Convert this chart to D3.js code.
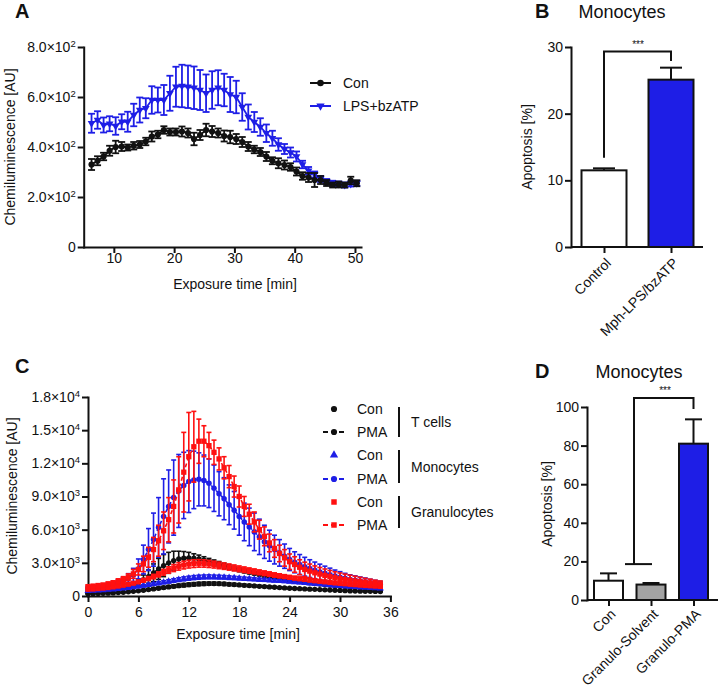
<!DOCTYPE html>
<html><head><meta charset="utf-8">
<script src="https://cdn.jsdelivr.net/npm/d3@7"></script>
<style>body{margin:0;background:#fff}svg{display:block;font-family:Arial,"Liberation Sans",sans-serif}</style>
</head><body><svg id="c" width="718" height="690"></svg>
<script>
// ---------- Panel A data ----------
const timeA = d3.range(0, 45).map(i => 6.3 + i);
const conA = [330,345,362,385,400,402,398,405,410,422, 442,450,468,460,460,462,456,432,448,468, 462,456,444,440,432,420,402,390,380,362, 345,335,328,320,302,284,278,268,268,256, 248,250,248,266,255];
const conAErr = [22,18,15,20,25,18,12,15,14,15, 20,15,15,14,14,20,18,25,20,25, 22,18,22,25,20,20,18,15,16,18, 14,20,18,15,16,15,18,28,16,12, 10,12,10,15,12];
const lpsA = [495,508,488,493,484,501,501,528,548,555, 588,588,588,615,641,644,641,637,628,615, 628,637,628,610,600,560,520,500,480,455, 435,410,392,378,362,330,305,290,272,262, 255,252,248,252,255];
const lpsAErr = [38,35,30,30,35,30,40,45,50,40, 55,50,60,70,80,85,85,85,80,75, 75,70,65,70,65,55,50,40,35,35, 30,25,20,20,20,15,15,12,12,10, 10,10,10,10,10];
const ticksAx = [10,20,30,40,50];
const ticksAy = [0,200,400,600,800];
const labAyMant = ["0","2.0×10","4.0×10","6.0×10","8.0×10"];
const labAyExp = ["","2","2","2","2"];

// ---------- Panel B data ----------
const catsB = ["Control","Mph-LPS/bzATP"];
const valsB = [11.5, 25.1];
const errB = [0.3, 1.8];
const ticksBy = [0,10,20,30];

// ---------- Panel C data (values in thousands AU) ----------
const timeC = d3.range(0, 59).map(i => i * 0.6);
const tConC = [0.2,0.21,0.22,0.24,0.26,0.28,0.31,0.34,0.38,0.42, 0.47,0.52,0.58,0.64,0.7,0.76,0.82,0.88,0.93,0.98, 1.02,1.06,1.09,1.11,1.12,1.12,1.11,1.09,1.06,1.03, 1.0,0.97,0.94,0.91,0.88,0.85,0.82,0.79,0.76,0.73, 0.7,0.68,0.66,0.64,0.62,0.6,0.58,0.56,0.54,0.52, 0.5,0.48,0.46,0.45,0.44,0.43,0.42,0.41,0.4];
const tConCErr = [0.03,0.03,0.03,0.03,0.03,0.04,0.04,0.04,0.05,0.05, 0.06,0.07,0.08,0.09,0.1,0.11,0.12,0.13,0.14,0.15, 0.15,0.15,0.15,0.15,0.14,0.14,0.13,0.13,0.12,0.12, 0.11,0.11,0.1,0.1,0.09,0.09,0.08,0.08,0.08,0.07, 0.07,0.07,0.06,0.06,0.06,0.06,0.05,0.05,0.05,0.05, 0.05,0.05,0.04,0.04,0.04,0.04,0.04,0.04,0.04];
const tPmaC = [0.35,0.38,0.42,0.46,0.5,0.56,0.64,0.74,0.86,1.0, 1.2,1.45,1.75,2.1,2.45,2.75,3.0,3.2,3.35,3.42, 3.45,3.42,3.35,3.25,3.12,3.0,2.88,2.75,2.62,2.5, 2.38,2.27,2.16,2.06,1.96,1.86,1.77,1.68,1.6,1.52, 1.45,1.38,1.31,1.25,1.19,1.13,1.08,1.03,0.98,0.94, 0.9,0.86,0.82,0.79,0.76,0.73,0.7,0.68,0.66];
const tPmaCErr = [0.05,0.05,0.05,0.05,0.06,0.07,0.08,0.1,0.15,0.2, 0.3,0.45,0.6,0.8,0.95,1.0,0.95,0.85,0.7,0.6, 0.5,0.4,0.35,0.3,0.28,0.26,0.24,0.22,0.2,0.19, 0.18,0.17,0.16,0.15,0.14,0.13,0.12,0.12,0.11,0.1, 0.1,0.1,0.09,0.09,0.08,0.08,0.08,0.07,0.07,0.07, 0.06,0.06,0.06,0.05,0.05,0.05,0.05,0.05,0.05];
const mConC = [0.45,0.47,0.5,0.53,0.56,0.6,0.64,0.69,0.74,0.8, 0.86,0.93,1.0,1.08,1.16,1.24,1.32,1.4,1.48,1.55, 1.61,1.66,1.7,1.72,1.73,1.72,1.71,1.69,1.66,1.63, 1.6,1.57,1.54,1.51,1.48,1.45,1.42,1.39,1.36,1.33, 1.3,1.26,1.22,1.18,1.14,1.1,1.06,1.02,0.98,0.94, 0.9,0.87,0.84,0.81,0.78,0.75,0.72,0.7,0.68];
const mConCErr = [0.05,0.05,0.05,0.05,0.06,0.06,0.07,0.07,0.08,0.08, 0.09,0.1,0.11,0.12,0.13,0.14,0.15,0.16,0.17,0.18, 0.18,0.18,0.18,0.18,0.18,0.17,0.17,0.16,0.16,0.15, 0.15,0.14,0.14,0.13,0.13,0.12,0.12,0.11,0.11,0.1, 0.1,0.1,0.09,0.09,0.09,0.08,0.08,0.08,0.07,0.07, 0.07,0.07,0.06,0.06,0.06,0.06,0.05,0.05,0.05];
const mPmaC = [0.70,0.75,0.80,0.88,0.97,1.08,1.22,1.40,1.62,1.90, 2.45,3.30,4.20,5.10,6.20,7.20,8.10,8.90,9.50,10.00, 10.35,10.50,10.55,10.45,10.20,9.75,9.25,8.80,8.25,7.75, 7.20,6.70,6.25,5.80,5.35,4.90,4.55,4.20,3.90,3.60, 3.30,3.05,2.85,2.65,2.48,2.32,2.18,2.05,1.92,1.80, 1.70,1.60,1.50,1.42,1.35,1.28,1.20,1.12,1.05];
const mPmaCErr = [0.15,0.15,0.15,0.18,0.2,0.22,0.25,0.3,0.4,0.6, 0.9,1.3,1.9,2.4,2.7,3.4,3.3,3.4,3.3,3.0, 2.8,2.6,2.4,2.3,2.2,2.1,2.0,1.9,1.8,1.7, 1.7,1.7,1.7,1.7,1.6,1.5,1.4,1.3,1.2,1.1, 1.0,0.95,0.9,0.85,0.8,0.75,0.7,0.65,0.6,0.55, 0.5,0.45,0.42,0.4,0.37,0.35,0.32,0.3,0.28];
const gConC = [0.6,0.63,0.67,0.71,0.76,0.82,0.89,0.97,1.06,1.16, 1.28,1.42,1.58,1.76,1.95,2.15,2.35,2.53,2.68,2.8, 2.88,2.93,2.95,2.94,2.9,2.84,2.77,2.7,2.62,2.54, 2.46,2.38,2.3,2.22,2.14,2.06,1.98,1.9,1.83,1.76, 1.69,1.62,1.56,1.5,1.44,1.38,1.33,1.28,1.23,1.18, 1.14,1.1,1.06,1.02,0.98,0.95,0.92,0.89,0.86];
const gConCErr = [0.06,0.06,0.07,0.07,0.08,0.08,0.09,0.1,0.11,0.12, 0.14,0.16,0.18,0.2,0.23,0.26,0.29,0.32,0.34,0.35, 0.35,0.35,0.34,0.33,0.32,0.31,0.3,0.29,0.28,0.27, 0.26,0.25,0.24,0.23,0.22,0.21,0.2,0.19,0.18,0.17, 0.16,0.16,0.15,0.15,0.14,0.14,0.13,0.13,0.12,0.12, 0.11,0.11,0.1,0.1,0.1,0.09,0.09,0.09,0.08];
const gPmaC = [0.85,0.9,0.95,1.0,1.1,1.2,1.35,1.5,1.7,2.0, 2.4,2.9,3.5,4.2,5.0,5.9,6.9,8.1,9.6,11.2, 12.6,13.5,14.0,14.0,13.6,13.0,12.4,11.6,10.8,9.9, 9.0,8.1,7.4,6.7,6.0,5.4,4.8,4.3,3.85,3.45, 3.1,2.85,2.6,2.4,2.25,2.1,1.98,1.86,1.75,1.65, 1.56,1.48,1.41,1.35,1.29,1.23,1.18,1.13,1.08];
const gPmaCErr = [0.1,0.1,0.1,0.12,0.14,0.16,0.2,0.25,0.3,0.4, 0.5,0.7,0.9,1.1,1.4,1.7,2.0,2.4,3.0,3.6, 4.0,3.2,2.0,1.4,1.2,1.1,1.0,1.0,1.0,0.95, 0.95,0.9,0.9,0.9,0.85,0.85,0.8,0.8,0.75,0.75, 0.7,0.7,0.68,0.66,0.64,0.62,0.6,0.58,0.56,0.54, 0.52,0.5,0.47,0.44,0.4,0.37,0.34,0.3,0.28];
const ticksCx = [0,6,12,18,24,30,36];
const ticksCy = [0,3,6,9,12,15,18];
const labCyMant = ["0","3.0×10","6.0×10","9.0×10","1.2×10","1.5×10","1.8×10"];
const labCyExp = ["","3","3","3","4","4","4"];
const legendCLabels = ["Con","PMA","Con","PMA","Con","PMA"];
const legendCGroups = ["T cells","Monocytes","Granulocytes"];

// ---------- Panel D data ----------
const catsD = ["Con","Granulo-Solvent","Granulo-PMA"];
const valsD = [10.0, 8.0, 81.0];
const errD = [3.8, 0.8, 12.6];
const ticksDy = [0,20,40,60,80,100];

// ---------- colours ----------
const BLUE = "#1e1ee6", RED = "#ff1010", BLACK = "#111", GRAY = "#a3a3a3";
const FONT = 'Arial,"Liberation Sans",sans-serif';

const svg = d3.select("#c");

function styleAxis(g) {
  g.attr("font-family", FONT).attr("font-size", 14);
  g.selectAll(".domain").attr("stroke", BLACK).attr("stroke-width", 2).attr("stroke-linecap", "square");
  g.selectAll(".tick line").attr("stroke", BLACK).attr("stroke-width", 2);
  g.selectAll(".tick text").attr("fill", BLACK);
}
function supLabels(g, mant, exp) {
  g.selectAll(".tick text").each(function(d, i) {
    const t = d3.select(this);
    t.text(mant[i]);
    if (exp[i]) t.append("tspan").attr("dy", "-0.55em").attr("font-size", 9.5).text(exp[i]);
  });
}
function text(x, y, s, opt = {}) {
  const t = svg.append("text").attr("x", x).attr("y", y).text(s)
    .attr("font-family", FONT).attr("font-size", opt.size || 14)
    .attr("fill", BLACK).attr("text-anchor", opt.anchor || "start");
  if (opt.bold) t.attr("font-weight", "bold");
  if (opt.rot) t.attr("transform", `rotate(${opt.rot},${x},${y})`);
  return t;
}
function errBars(g, xs, ys, es, xS, yS, color, cap, sw, upperOnly) {
  xs.forEach((xv, i) => {
    const x = xS(xv), y1 = yS(ys[i] + es[i]), y0 = upperOnly ? yS(ys[i]) : yS(ys[i] - es[i]);
    g.append("line").attr("x1", x).attr("x2", x).attr("y1", y0).attr("y2", y1).attr("stroke", color).attr("stroke-width", sw);
    g.append("line").attr("x1", x - cap / 2).attr("x2", x + cap / 2).attr("y1", y1).attr("y2", y1).attr("stroke", color).attr("stroke-width", sw);
    if (!upperOnly) g.append("line").attr("x1", x - cap / 2).attr("x2", x + cap / 2).attr("y1", y0).attr("y2", y0).attr("stroke", color).attr("stroke-width", sw);
  });
}
function symbols(g, xs, ys, xS, yS, type, size, color, rot) {
  const sym = d3.symbol().type(type).size(size);
  xs.forEach((xv, i) => {
    g.append("path").attr("d", sym()).attr("fill", color)
      .attr("transform", `translate(${xS(xv)},${yS(ys[i])})${rot ? " rotate(" + rot + ")" : ""}`);
  });
}

// =============== Panel A ===============
{
  const x = d3.scaleLinear([5, 51], [83.7, 361]);
  const y = d3.scaleLinear([0, 800], [247, 47]);
  const gx = svg.append("g").attr("transform", "translate(0,247)")
    .call(d3.axisBottom(x).tickValues(ticksAx).tickSize(6).tickPadding(0).tickSizeOuter(0));
  styleAxis(gx);
  const gy = svg.append("g").attr("transform", "translate(83.7,0)")
    .call(d3.axisLeft(y).tickValues(ticksAy).tickSize(6).tickPadding(2).tickSizeOuter(0));
  styleAxis(gy); supLabels(gy, labAyMant, labAyExp);

  const line = d3.line().x((d, i) => x(timeA[i])).y(d => y(d));
  const gB = svg.append("g");
  errBars(gB, timeA, lpsA, lpsAErr, x, y, BLUE, 7, 1.8, false);
  gB.append("path").attr("d", line(lpsA)).attr("fill", "none").attr("stroke", BLUE).attr("stroke-width", 1.8);
  symbols(gB, timeA, lpsA, x, y, d3.symbolTriangle, 26, BLUE, 180);
  const gK = svg.append("g");
  errBars(gK, timeA, conA, conAErr, x, y, BLACK, 7, 1.8, false);
  gK.append("path").attr("d", line(conA)).attr("fill", "none").attr("stroke", BLACK).attr("stroke-width", 1.8);
  symbols(gK, timeA, conA, x, y, d3.symbolCircle, 30, BLACK);

  // legend
  svg.append("line").attr("x1", 310).attr("x2", 331).attr("y1", 83).attr("y2", 83).attr("stroke", BLACK).attr("stroke-width", 2);
  svg.append("path").attr("d", d3.symbol().type(d3.symbolCircle).size(34)()).attr("transform", "translate(320.5,83)").attr("fill", BLACK);
  svg.append("line").attr("x1", 310).attr("x2", 331).attr("y1", 106).attr("y2", 106).attr("stroke", BLUE).attr("stroke-width", 2);
  svg.append("path").attr("d", d3.symbol().type(d3.symbolTriangle).size(30)()).attr("transform", "translate(320.5,106) rotate(180)").attr("fill", BLUE);
  text(343, 88, "Con");
  text(343, 111, "LPS+bzATP");

  text(235, 289, "Exposure time [min]", { anchor: "middle" });
  text(15, 147, "Chemiluminescence [AU]", { anchor: "middle", rot: -90 });
  text(15, 18, "A", { bold: true, size: 20 });
}

// =============== Panel B ===============
{
  const x = d3.scalePoint().domain(catsB).range([604, 671]);
  const y = d3.scaleLinear([0, 30], [247, 47]);
  const bw = 45;
  const gy = svg.append("g").attr("transform", "translate(571,0)")
    .call(d3.axisLeft(y).tickValues(ticksBy).tickSize(6).tickPadding(2).tickSizeOuter(0));
  styleAxis(gy);
  const g = svg.append("g");
  errBars(g, catsB, valsB, errB, x, y, BLACK, 22, 2, true);
  catsB.forEach((c, i) => {
    g.append("rect").attr("x", x(c) - bw / 2).attr("y", y(valsB[i])).attr("width", bw).attr("height", y(0) - y(valsB[i]))
      .attr("fill", i === 0 ? "#fff" : BLUE).attr("stroke", BLACK).attr("stroke-width", 2);
  });
  const gx = svg.append("g").attr("transform", "translate(0,247)")
    .call(d3.axisBottom(x).tickSize(6).tickFormat(""));
  gx.select(".domain").remove();
  styleAxis(gx);
  svg.append("line").attr("x1", 571).attr("x2", 703).attr("y1", 247).attr("y2", 247).attr("stroke", BLACK).attr("stroke-width", 2);
  catsB.forEach(c => text(x(c) + 8, 264, c, { anchor: "end", rot: -45 }));
  svg.append("path").attr("d", `M${x(catsB[0])},${y(13.4)}V51.5H${x(catsB[1])}V61`).attr("fill", "none").attr("stroke", BLACK).attr("stroke-width", 2);
  text(638, 48, "***", { anchor: "middle", size: 10 });
  text(532, 147, "Apoptosis [%]", { anchor: "middle", rot: -90 });
  text(535, 18, "B", { bold: true, size: 20 });
  text(622, 18, "Monocytes", { anchor: "middle", size: 18 });
}

// =============== Panel C ===============
{
  const x = d3.scaleLinear([0, 36], [88, 390.4]);
  const y = d3.scaleLinear([0, 18], [596, 397]);
  const gx = svg.append("g").attr("transform", "translate(0,596)")
    .call(d3.axisBottom(x).tickValues(ticksCx).tickSize(6).tickPadding(5).tickSizeOuter(0));
  styleAxis(gx);
  const gy = svg.append("g").attr("transform", "translate(88,0)")
    .call(d3.axisLeft(y).tickValues(ticksCy).tickSize(6).tickPadding(2).tickSizeOuter(0));
  styleAxis(gy); supLabels(gy, labCyMant, labCyExp);

  const line = d3.line().x((d, i) => x(timeC[i])).y(d => y(d));
  const series = [
    { v: tConC, e: tConCErr, c: BLACK, sym: d3.symbolCircle, s: 22, dash: false },
    { v: tPmaC, e: tPmaCErr, c: BLACK, sym: d3.symbolCircle, s: 22, dash: true },
    { v: mConC, e: mConCErr, c: BLUE, sym: d3.symbolTriangle, s: 22, dash: false },
    { v: mPmaC, e: mPmaCErr, c: BLUE, sym: d3.symbolCircle, s: 24, dash: true },
    { v: gConC, e: gConCErr, c: RED, sym: d3.symbolSquare, s: 26, dash: false },
    { v: gPmaC, e: gPmaCErr, c: RED, sym: d3.symbolSquare, s: 28, dash: true }
  ];
  series.forEach(sr => {
    const g = svg.append("g");
    errBars(g, timeC, sr.v, sr.e, x, y, sr.c, 5, 1.6, false);
    if (sr.dash) g.append("path").attr("d", line(sr.v)).attr("fill", "none").attr("stroke", sr.c).attr("stroke-width", 1.6).attr("stroke-dasharray", "4,3");
    symbols(g, timeC, sr.v, x, y, sr.sym, sr.s, sr.c);
  });

  const rows = [409, 432, 455, 479, 502, 525];
  rows.forEach((ry, i) => {
    const sr = series[i];
    if (sr.dash) svg.append("line").attr("x1", 323).attr("x2", 346).attr("y1", ry).attr("y2", ry).attr("stroke", sr.c).attr("stroke-width", 2).attr("stroke-dasharray", "5,3");
    svg.append("path").attr("d", d3.symbol().type(sr.sym).size(30)()).attr("transform", `translate(334,${ry})`).attr("fill", sr.c);
    text(357, ry + 5, legendCLabels[i]);
  });
  const brk = [[407, 437], [450, 483], [496, 528]];
  brk.forEach((b, i) => {
    svg.append("line").attr("x1", 399).attr("x2", 399).attr("y1", b[0]).attr("y2", b[1]).attr("stroke", BLACK).attr("stroke-width", 2);
    text(411, (b[0] + b[1]) / 2 + 5, legendCGroups[i]);
  });

  text(238, 639, "Exposure time [min]", { anchor: "middle" });
  text(17, 496, "Chemiluminescence [AU]", { anchor: "middle", rot: -90 });
  text(15, 373, "C", { bold: true, size: 20 });
}

// =============== Panel D ===============
{
  const x = d3.scalePoint().domain(catsD).range([608.5, 693.5]);
  const y = d3.scaleLinear([0, 100], [600, 407]);
  const bw = 29;
  const gy = svg.append("g").attr("transform", "translate(587,0)")
    .call(d3.axisLeft(y).tickValues(ticksDy).tickSize(6).tickPadding(2).tickSizeOuter(0));
  styleAxis(gy);
  const g = svg.append("g");
  errBars(g, catsD, valsD, errD, x, y, BLACK, 17, 2, true);
  const fills = ["#fff", GRAY, BLUE];
  catsD.forEach((c, i) => {
    g.append("rect").attr("x", x(c) - bw / 2).attr("y", y(valsD[i])).attr("width", bw).attr("height", y(0) - y(valsD[i]))
      .attr("fill", fills[i]).attr("stroke", BLACK).attr("stroke-width", 2);
  });
  const gx = svg.append("g").attr("transform", "translate(0,600)")
    .call(d3.axisBottom(x).tickSize(6).tickFormat(""));
  gx.select(".domain").remove();
  styleAxis(gx);
  svg.append("line").attr("x1", 587).attr("x2", 718).attr("y1", 600).attr("y2", 600).attr("stroke", BLACK).attr("stroke-width", 2);
  catsD.forEach(c => text(x(c) + 8, 615, c, { anchor: "end", rot: -45 }));
  svg.append("line").attr("x1", 625).attr("x2", 652).attr("y1", y(18.6)).attr("y2", y(18.6)).attr("stroke", BLACK).attr("stroke-width", 2);
  svg.append("path").attr("d", `M634,${y(18.6)}V398H${x(catsD[2])}V409`).attr("fill", "none").attr("stroke", BLACK).attr("stroke-width", 2);
  text(665, 394, "***", { anchor: "middle", size: 10 });
  text(552, 504, "Apoptosis [%]", { anchor: "middle", rot: -90 });
  text(535, 378, "D", { bold: true, size: 20 });
  text(639, 378, "Monocytes", { anchor: "middle", size: 18 });
}
</script>
</body></html>
